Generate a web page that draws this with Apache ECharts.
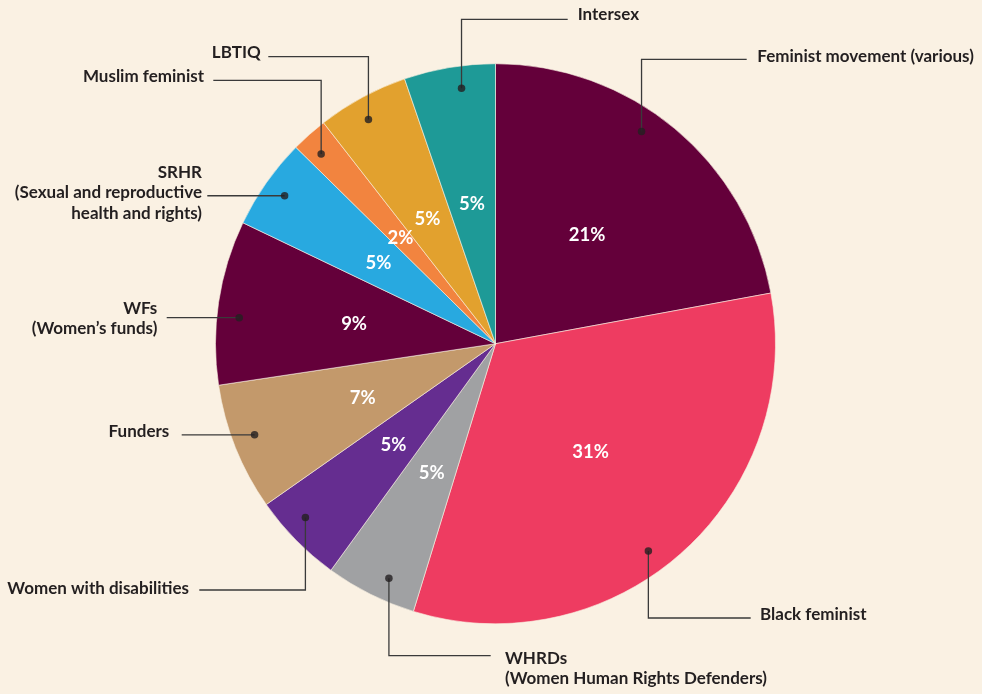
<!DOCTYPE html>
<html>
<head>
<meta charset="utf-8">
<script src="https://cdn.jsdelivr.net/npm/echarts@6/dist/echarts.min.js"></script>
<style>
html,body{margin:0;padding:0;background:#FAF1E3;}
#chart{width:982px;height:694px;}
</style>
</head>
<body>
<div id="chart"></div>
<script>
// ---- data ----
const categories = [
  "Feminist movement (various)",
  "Black feminist",
  "WHRDs\n(Women Human Rights Defenders)",
  "Women with disabilities",
  "Funders",
  "WFs\n(Women\u2019s funds)",
  "SRHR\n(Sexual and reproductive\nhealth and rights)",
  "Muslim feminist",
  "LBTIQ",
  "Intersex"
];
const values = [21, 31, 5, 5, 7, 9, 5, 2, 5, 5];
const colors = ["#64003A", "#EE3C61", "#A0A1A3", "#652D90", "#C3996B",
                "#64003A", "#28A9E0", "#F2843F", "#E2A12E", "#1E9A97"];

// ---- layout (leader lines / annotation placement) ----
const CX = 495.5, CY = 343.7, R = 280, ANCHOR_R = 0.92;
const leaders = [
  {frac: 0.434, elbow: 59.3,  endX: 746.7, textX: 757.3, dy: -2.3, align: "left"},
  {frac: 0.545, elbow: 618,   endX: 750.7, textX: 760,   dy: -3,   align: "left"},
  {frac: 0.39,  elbow: 655.7, endX: 490.7, textX: 505,   dy: 13,   align: "left"},
  {frac: 0.61,  elbow: 590,   endX: 199.3, textX: 189,   dy: -1.7, align: "right"},
  {frac: 0.54,  elbow: null,  endX: 181.7, textX: 169.3, dy: -3,   align: "right"},
  {frac: 0.42,  elbow: null,  endX: 166.7, textX: 157.3, dy: 0.6,  align: "right"},
  {frac: 0.50,  elbow: null,  endX: 207.3, textX: 202,   dy: -3,   align: "right"},
  {frac: 0.38,  elbow: 80.3,  endX: 213.3, textX: 204,   dy: -3.3, align: "right"},
  {frac: 0.44,  elbow: 56.7,  endX: 268.3, textX: 260.7, dy: -4,   align: "right"},
  {frac: 0.60,  elbow: 19.3,  endX: 567.7, textX: 577.7, dy: -4.3, align: "left"}
];

const total = values.reduce((a, b) => a + b, 0);
function anchorValue(i) {
  let cum = 0;
  for (let k = 0; k < i; k++) cum += values[k];
  return cum + leaders[i].frac * values[i];
}
function anchorPoint(i) {
  const a = anchorValue(i) / total * Math.PI * 2;
  const r = ANCHOR_R * R;
  return [CX + r * Math.sin(a), CY - r * Math.cos(a)];
}

const FONT = "Lato";
const chart = echarts.init(document.getElementById("chart"), null, {renderer: "canvas"});

const pieData = categories.map((c, i) => ({
  name: c, value: values[i], itemStyle: {color: colors[i]}
}));

chart.setOption({
  backgroundColor: "#FAF1E3",
  animation: false,
  tooltip: {show: false},
  polar: {center: [CX, CY], radius: R},
  angleAxis: {
    type: "value", min: 0, max: total, startAngle: 90, clockwise: true,
    show: false, axisLine: {show: false}, splitLine: {show: false}, axisLabel: {show: false}, axisTick: {show: false}
  },
  radiusAxis: {
    type: "value", min: 0, max: 1,
    show: false, axisLine: {show: false}, splitLine: {show: false}, axisLabel: {show: false}, axisTick: {show: false}
  },
  series: [
    {
      type: "pie",
      center: [CX, CY],
      radius: [0, R],
      startAngle: 90,
      clockwise: true,
      avoidLabelOverlap: false,
      silent: true,
      z: 1,
      itemStyle: {borderColor: "#FAF1E3", borderWidth: 0.6},
      label: {
        show: true, position: "inside",
        formatter: p => p.value + "%",
        offset: [0, 1.5],
        color: "#ffffff", fontFamily: FONT, fontWeight: "bold", fontSize: 18.5
      },
      labelLine: {show: false},
      emphasis: {disabled: true},
      data: pieData
    },
    {
      type: "pie",
      center: [CX, CY],
      radius: [0, R],
      startAngle: 90,
      clockwise: true,
      avoidLabelOverlap: false,
      silent: true,
      z: 2,
      itemStyle: {color: "rgba(0,0,0,0)", borderWidth: 0},
      label: {
        show: true, position: "outside",
        formatter: p => p.name,
        color: "#231F20", fontFamily: FONT, fontWeight: "bold", fontSize: 17, lineHeight: 20.5
      },
      labelLine: {show: true, smooth: false, lineStyle: {color: "#3A3A3A", width: 1.3}},
      labelLayout: function (params) {
        const i = params.dataIndex;
        const L = leaders[i];
        const p = anchorPoint(i);
        let pts, lineY;
        if (L.elbow == null) {
          lineY = p[1];
          pts = [p, [(p[0] + L.endX) / 2, p[1]], [L.endX, p[1]]];
        } else {
          lineY = L.elbow;
          pts = [p, [p[0], L.elbow], [L.endX, L.elbow]];
        }
        return {
          x: L.textX, y: lineY + L.dy, align: L.align, verticalAlign: "middle",
          labelLinePoints: pts, hideOverlap: false
        };
      },
      emphasis: {disabled: true},
      data: categories.map((c, i) => ({name: c, value: values[i]}))
    },
    {
      type: "scatter",
      coordinateSystem: "polar",
      symbol: "circle",
      symbolSize: 7.5,
      silent: true,
      z: 5,
      itemStyle: {color: "#231F20"},
      data: categories.map((c, i) => [ANCHOR_R, anchorValue(i)])
    }
  ]
});
</script>
</body>
</html>
